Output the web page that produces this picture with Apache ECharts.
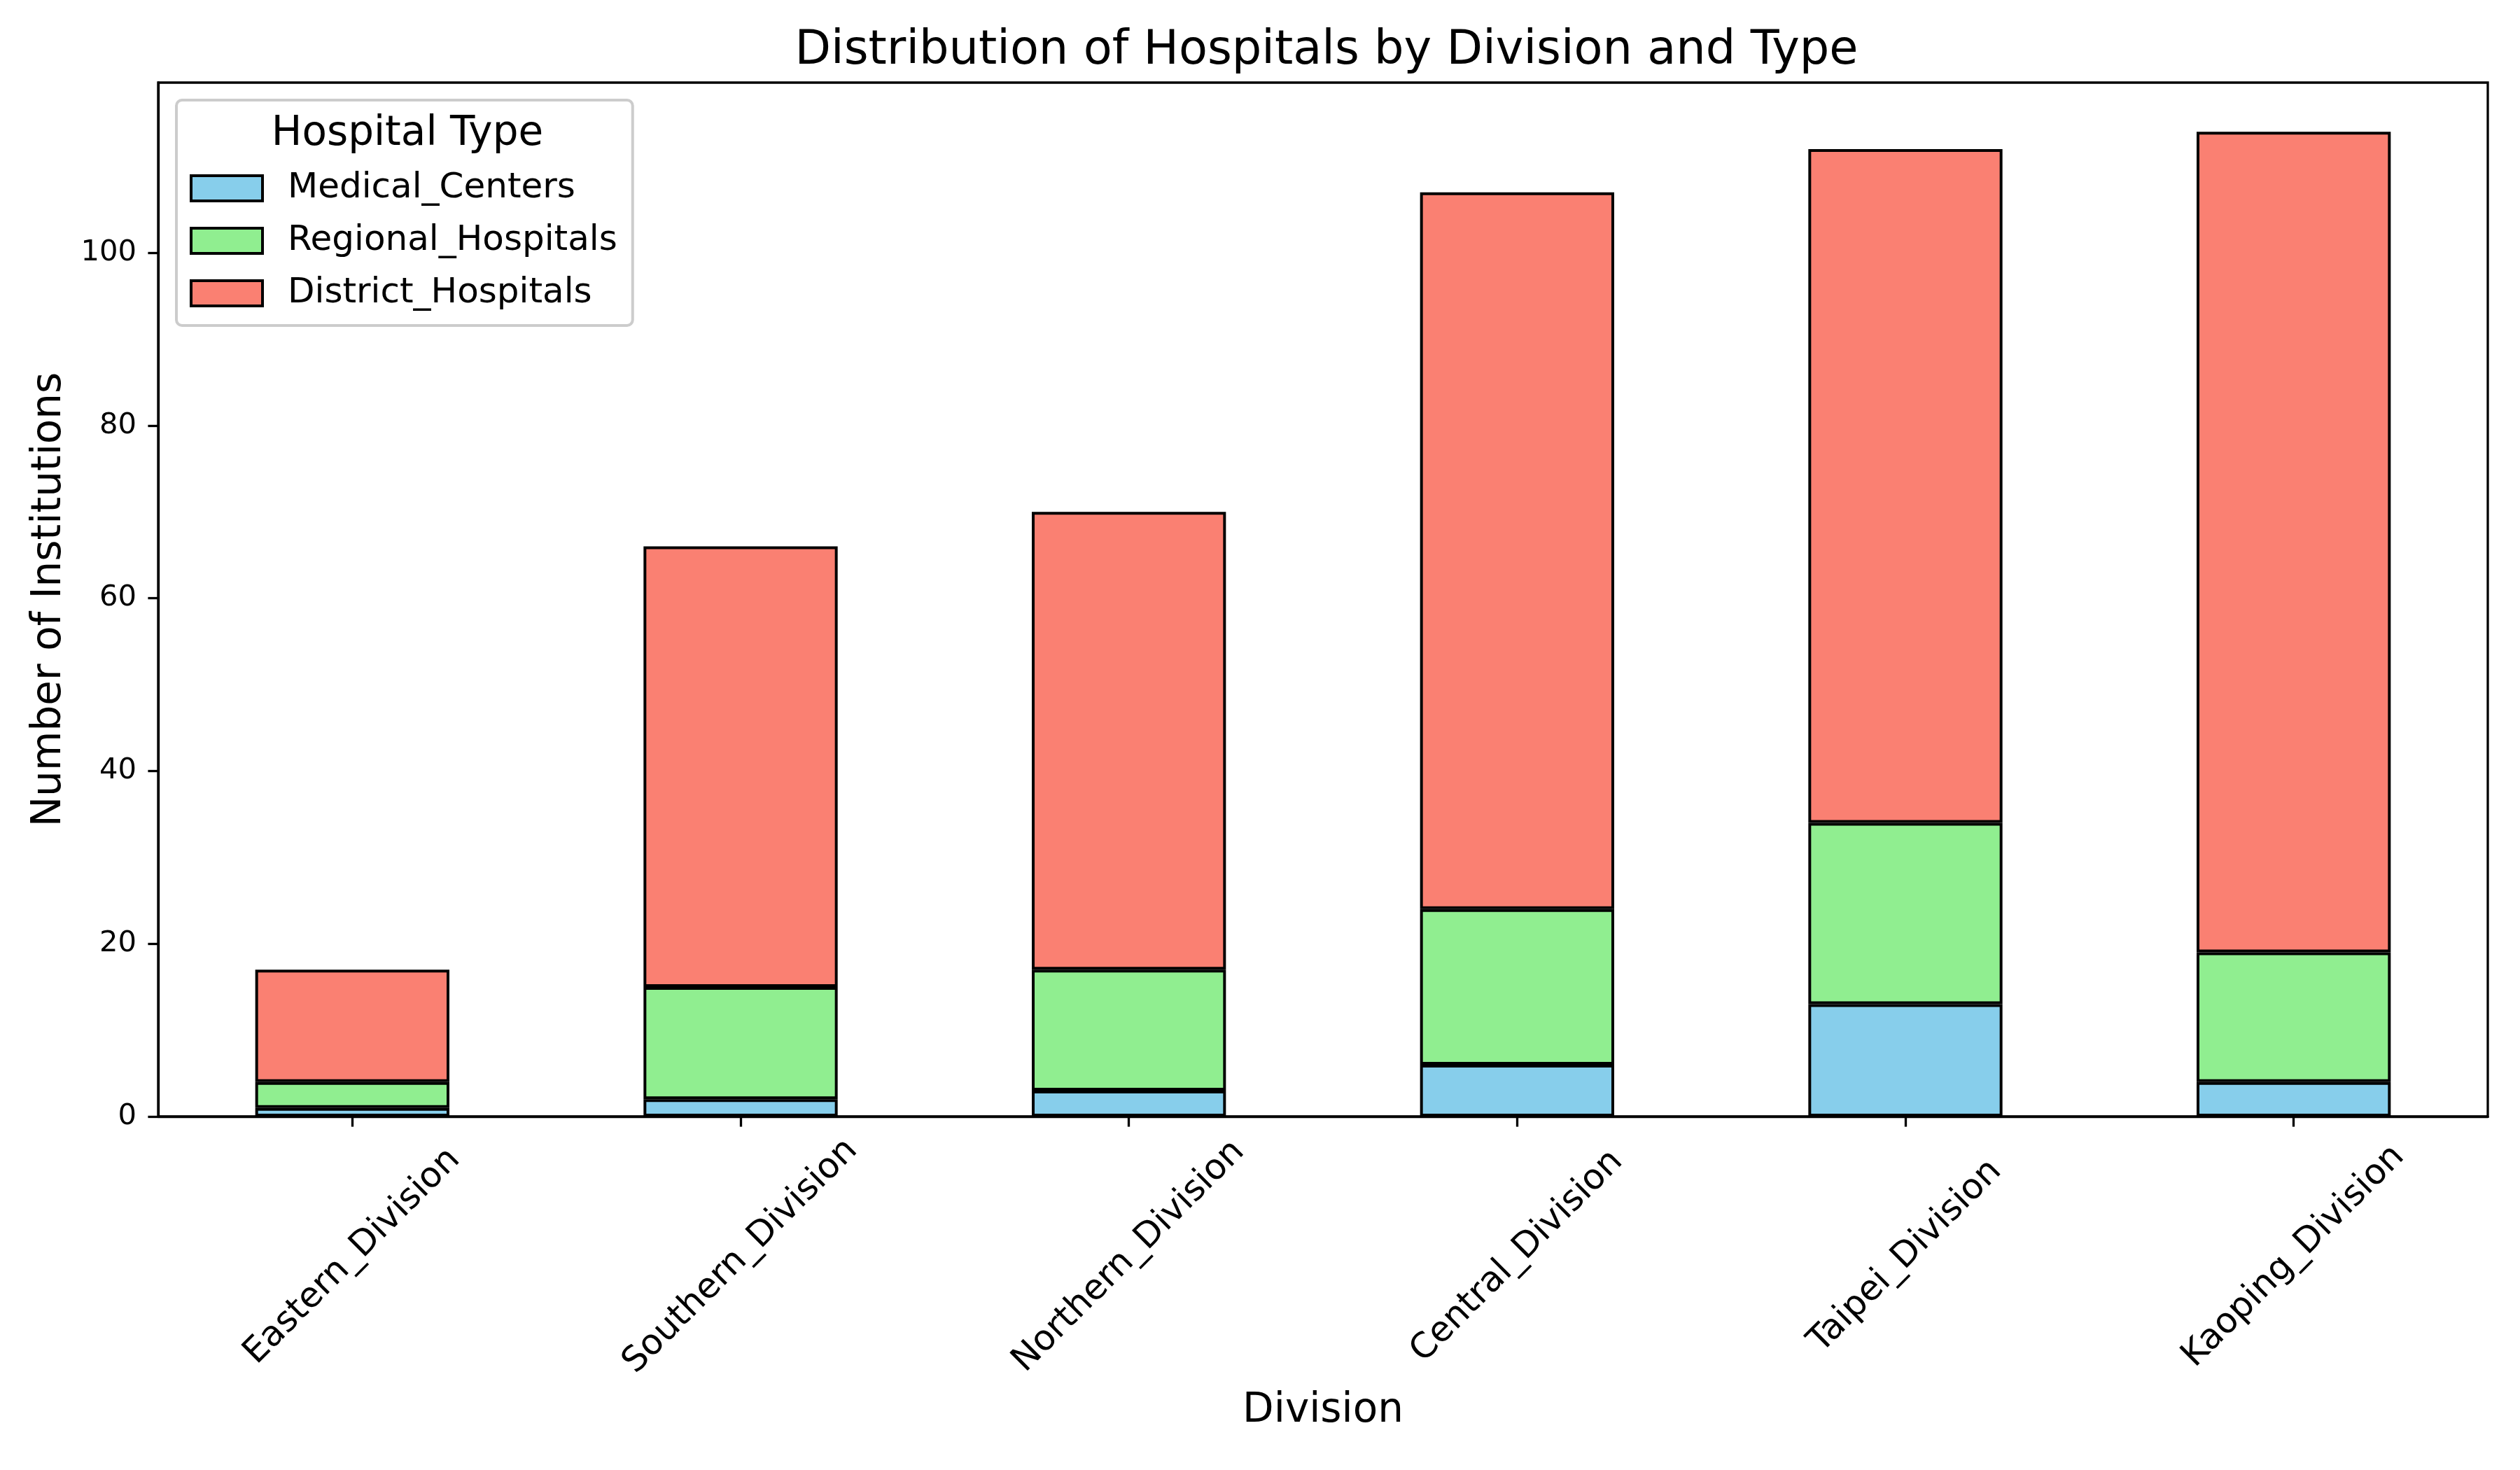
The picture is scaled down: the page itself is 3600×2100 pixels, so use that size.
<!DOCTYPE html>
<html>
<head>
<meta charset="utf-8">
<script src="https://cdn.jsdelivr.net/npm/echarts@6/dist/echarts.min.js"></script>
<style>
html,body{margin:0;padding:0;background:#fff;}
#chart{width:3600px;height:2100px;}
</style>
</head>
<body>
<div id="chart"></div>
<script>
const categories = ['Eastern_Division','Southern_Division','Northern_Division','Central_Division','Taipei_Division','Kaoping_Division'];
const medicalCenters = [1, 2, 3, 6, 13, 4];
const regionalHospitals = [3, 13, 14, 18, 21, 15];
const districtHospitals = [13, 51, 53, 83, 78, 95];
const yTicks = [0, 20, 40, 60, 80, 100];
const seriesNames = ['Medical_Centers','Regional_Hospitals','District_Hospitals'];
const seriesColors = ['#87CEEB','#90EE90','#FA8072'];
const seriesData = [medicalCenters, regionalHospitals, districtHospitals];

const FONT = 'DejaVu Sans';
const chart = echarts.init(document.getElementById('chart'), null, {renderer:'canvas'});

const option = {
  backgroundColor: '#ffffff',
  animation: false,
  textStyle: {fontFamily: FONT, color: '#000'},
  title: [
    {text: 'Distribution of Hospitals by Division and Type', left: 1890, top: 35, textAlign: 'center',
     textStyle: {fontFamily: FONT, fontSize: 67, fontWeight: 'normal', color: '#000'}},
    {text: 'Hospital Type', left: 577, top: 158, textAlign: 'center',
     textStyle: {fontFamily: FONT, fontSize: 58, fontWeight: 'normal', color: '#000'}}
  ],
  legend: {
    orient: 'vertical', left: 252, top: 143,
    data: seriesNames.map(n => ({name: n, icon: 'rect'})),
    itemWidth: 102, itemHeight: 36, itemGap: 25,
    padding: [101, 22, 21, 19],
    borderColor: '#cccccc', borderWidth: 4, borderRadius: 8,
    backgroundColor: 'rgba(255,255,255,0.8)',
    textStyle: {fontFamily: FONT, fontSize: 50, color: '#000', padding: [0,0,0,31]},
    itemStyle: {borderColor: '#000', borderWidth: 4}
  },
  grid: {left: 226, right: 46, top: 118, bottom: 505, show: true, borderColor: '#000', borderWidth: 3.3, containLabel: false},
  xAxis: {
    type: 'category', data: categories,
    name: 'Division', nameLocation: 'middle', nameGap: 392,
    nameTextStyle: {fontFamily: FONT, fontSize: 58, color: '#000'},
    axisLine: {show: true, lineStyle: {color: '#000', width: 3.3}},
    axisTick: {show: true, alignWithLabel: true, length: 14.6, lineStyle: {color: '#000', width: 3.3}},
    axisLabel: {interval: 0, rotate: 45, align: 'center', verticalAlign: 'middle', margin: 200,
      fontFamily: FONT, fontSize: 50, color: '#000'},
    splitLine: {show: false}
  },
  yAxis: {
    type: 'value', min: 0, max: 119.7, interval: 20,
    name: 'Number of Institutions', nameLocation: 'middle', nameGap: 126, nameRotate: 90,
    nameTextStyle: {fontFamily: FONT, fontSize: 58, color: '#000'},
    axisLine: {show: true, lineStyle: {color: '#000', width: 3.3}},
    axisTick: {show: true, length: 14.6, lineStyle: {color: '#000', width: 3.3}, customValues: yTicks},
    axisLabel: {margin: 31, fontFamily: FONT, fontSize: 41.7, color: '#000', customValues: yTicks},
    splitLine: {show: false}
  },
  series: seriesNames.map((n, i) => ({
    name: n, type: 'bar', stack: 'total', barWidth: '50%',
    data: seriesData[i],
    itemStyle: {color: seriesColors[i], borderColor: '#000', borderWidth: 4}
  }))
};
chart.setOption(option);
</script>
</body>
</html>
